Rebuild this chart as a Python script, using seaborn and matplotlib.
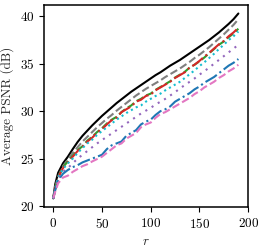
import numpy as np
import pandas as pd
import matplotlib
matplotlib.use("Agg")
import matplotlib.pyplot as plt
import seaborn as sns

r = [0, 2, 5, 10, 15, 20, 25, 30, 35, 40, 45, 50, 55, 60, 65, 70, 75, 80, 85, 90,
     95, 100, 105, 110, 115, 120, 125, 130, 135, 140, 145, 150, 155, 160, 165, 170,
     175, 180, 185, 190]

black = [20.8, 22.3, 23.5, 24.5, 25.2, 26.0, 26.75, 27.4, 27.95, 28.5, 29.0, 29.5, 29.95,
         30.4, 30.85, 31.25, 31.65, 32.05, 32.4, 32.75, 33.1, 33.45, 33.8, 34.1, 34.45,
         34.8, 35.1, 35.4, 35.75, 36.1, 36.45, 36.8, 37.15, 37.5, 37.9, 38.3, 38.75, 39.2,
         39.7, 40.3]
gray = [20.8, 22.0, 23.1, 24.2, 24.9, 25.6, 26.2, 26.8, 27.3, 27.8, 28.3, 28.75, 29.2,
        29.6, 30.05, 30.45, 30.85, 31.25, 31.65, 32.0, 32.35, 32.65, 32.95, 33.25, 33.6,
        33.9, 34.2, 34.5, 34.85, 35.2, 35.6, 35.95, 36.35, 36.75, 37.2, 37.65, 38.1, 38.6,
        39.1, 39.7]
red = [20.8, 21.8, 23.0, 24.0, 24.6, 25.2, 25.8, 26.25, 26.8, 27.2, 27.75, 28.1, 28.6,
       29.05, 29.3, 29.9, 30.2, 30.5, 31.0, 31.2, 31.6, 31.75, 32.2, 32.5, 32.8, 33.1,
       33.5, 33.8, 34.1, 34.6, 34.9, 35.3, 35.75, 36.15, 36.6, 37.05, 37.4, 37.9, 38.3, 38.8]
green = [20.8, 21.8, 23.0, 24.1, 24.7, 25.3, 25.9, 26.3, 26.9, 27.3, 27.8, 28.2, 28.7,
         29.1, 29.4, 29.9, 30.3, 30.6, 31.05, 31.3, 31.65, 31.85, 32.25, 32.55, 32.85,
         33.15, 33.55, 33.85, 34.15, 34.6, 34.9, 35.25, 35.65, 36.1, 36.55, 37.0, 37.35,
         37.8, 38.2, 38.7]
cyan = [20.8, 21.8, 23.0, 23.9, 24.5, 25.0, 25.6, 26.1, 26.6, 27.0, 27.5, 27.9, 28.3,
        28.7, 29.1, 29.45, 29.8, 30.1, 30.4, 30.6, 31.0, 31.3, 31.6, 31.85, 32.2, 32.5,
        32.8, 33.1, 33.5, 33.9, 34.3, 34.75, 35.15, 35.6, 36.05, 36.55, 37.0, 37.5, 37.9, 38.4]
purple = [20.8, 21.7, 22.8, 23.6, 24.0, 24.5, 25.0, 25.4, 25.8, 26.2, 26.6, 26.95, 27.3,
          27.65, 28.0, 28.35, 28.7, 29.05, 29.4, 29.75, 30.05, 30.35, 30.7, 31.0, 31.3,
          31.65, 32.0, 32.4, 32.75, 33.1, 33.45, 33.85, 34.2, 34.6, 35.0, 35.4, 35.8,
          36.2, 36.6, 37.0]
blue = [20.8, 21.7, 22.7, 23.4, 23.8, 24.1, 24.3, 24.6, 24.8, 25.0, 25.2, 25.4, 26.0,
        26.4, 26.6, 26.8, 27.4, 27.7, 28.0, 28.6, 28.9, 29.1, 29.6, 30.0, 30.2, 30.5,
        31.0, 31.3, 31.6, 31.9, 32.3, 32.6, 33.0, 33.3, 33.6, 34.0, 34.4, 34.8, 35.1, 35.5]
pink = [20.8, 21.5, 22.4, 23.0, 23.2, 23.6, 23.9, 24.2, 24.4, 24.7, 24.95, 25.2, 25.6,
        26.0, 26.4, 26.6, 27.1, 27.4, 27.7, 28.3, 28.6, 28.8, 29.3, 29.7, 29.9, 30.2,
        30.5, 30.8, 31.1, 31.4, 31.8, 32.1, 32.5, 32.8, 33.1, 33.5, 33.8, 34.2, 34.5, 34.9]

series = [
    ("black", black, "black", "-"),
    ("gray", gray, "tab:gray", (0, (3.7, 1.6))),
    ("green", green, "tab:green", (0, (3.7, 1.6))),
    ("red", red, "tab:red", (0, (6.4, 1.6, 1.0, 1.6))),
    ("cyan", cyan, "tab:cyan", (0, (1, 1.65))),
    ("purple", purple, "tab:purple", (0, (1, 2.5))),
    ("blue", blue, "tab:blue", (0, (6.4, 1.6, 1.0, 1.6))),
    ("pink", pink, "tab:pink", (0, (3.7, 1.6))),
]

sns.set_style("ticks")
plt.rcParams["font.family"] = ["cmr10", "DejaVu Serif"]
plt.rcParams["mathtext.fontset"] = "cm"
plt.rcParams["axes.formatter.use_mathtext"] = True
plt.rcParams["font.size"] = 9.5

fig = plt.figure(figsize=(2.62, 2.49), dpi=100)
ax = fig.add_axes([0.168, 0.169, 0.779, 0.811])

for name, vals, col, ls in series:
    df = pd.DataFrame({"r": r, "psnr": vals})
    sns.lineplot(data=df, x="r", y="psnr", ax=ax, color=col, linewidth=1.5)
    ax.lines[-1].set_linestyle(ls)

ax.set_xlim(-9.5, 199.5)
ax.set_ylim(19.9, 41.2)
ax.set_xticks([0, 50, 100, 150, 200])
ax.set_yticks([20, 25, 30, 35, 40])
ax.set_xlabel("$r$", fontsize=9.5)
ax.set_ylabel("Average PSNR (dB)", fontsize=9.5)
for s in ax.spines.values():
    s.set_visible(True)
    s.set_linewidth(1.1)
    s.set_color("black")
ax.tick_params(axis="both", labelsize=9.5, length=3.5, width=0.8, colors="black")

fig.savefig("out.png", dpi=100)
